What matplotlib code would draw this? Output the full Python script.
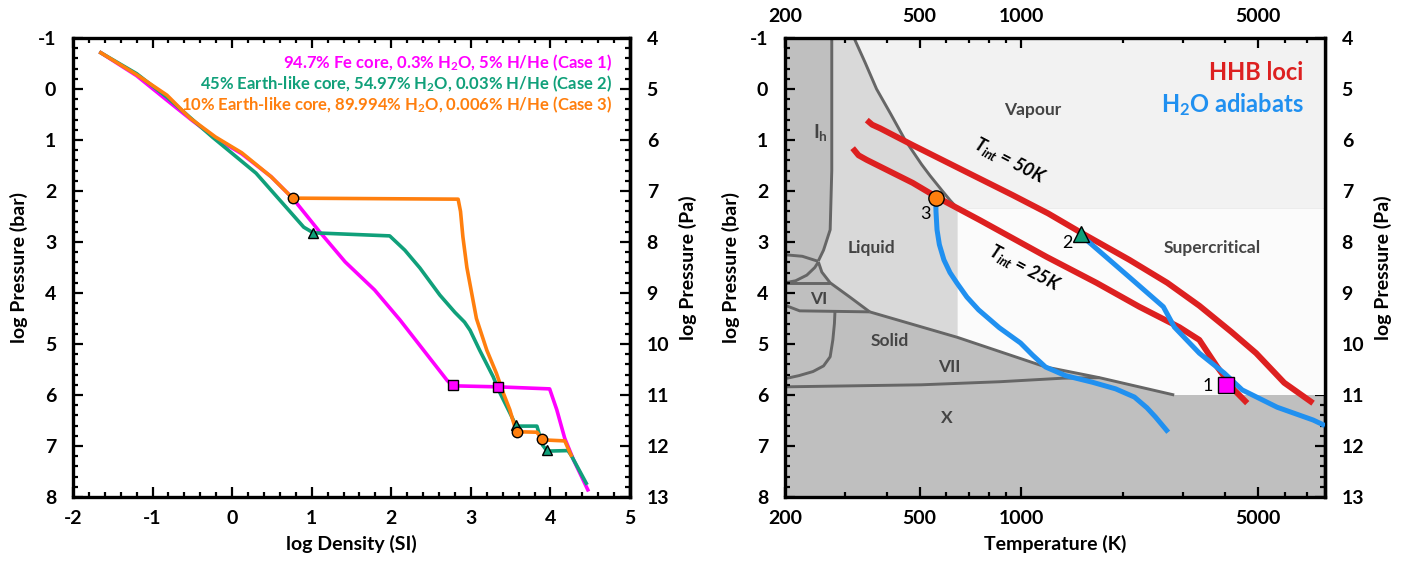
import numpy as np
import matplotlib
matplotlib.use("Agg")
import matplotlib.pyplot as plt
from matplotlib.ticker import MultipleLocator, FixedLocator, FixedFormatter, NullFormatter, LogLocator

plt.rcParams.update({
    'font.family': ['Lato', 'DejaVu Sans'],
    'font.weight': 'bold',
    'axes.labelweight': 'bold',
    'mathtext.fontset': 'custom',
    'mathtext.rm': 'Lato:bold',
    'mathtext.it': 'Lato:italic:bold',
    'mathtext.bf': 'Lato:bold',
    'axes.unicode_minus': False,
})

# ---- left panel: log density vs log pressure (bar) ----
case1_d = [-1.65, -1.2, -0.82, -0.5, -0.2, 0.12, 0.49, 0.76, 1.10, 1.42, 1.79, 2.11, 2.48, 2.70, 2.77,
           3.34, 3.99, 4.08, 4.18, 4.29, 4.47]
case1_P = [-0.71, -0.26, 0.22, 0.62, 0.97, 1.27, 1.72, 2.14, 2.80, 3.39, 3.94, 4.53, 5.27, 5.71, 5.82,
           5.84, 5.88, 6.29, 6.85, 7.27, 7.86]

case2_d = [-1.65, -1.2, -0.82, -0.25, 0.30, 0.90, 1.02, 1.98, 2.17, 2.36, 2.61, 2.80, 2.92, 2.99, 3.11,
           3.28, 3.36, 3.49, 3.57, 3.83, 3.90, 3.96, 4.22, 4.26, 4.45]
case2_P = [-0.71, -0.3, 0.16, 0.94, 1.65, 2.71, 2.82, 2.88, 3.16, 3.51, 4.04, 4.38, 4.57, 4.73, 5.12,
           5.64, 5.94, 6.35, 6.61, 6.61, 6.98, 7.10, 7.09, 7.18, 7.73]

case3_d = [-1.65, -1.2, -0.82, -0.53, -0.21, 0.12, 0.49, 0.76, 2.84, 2.87, 2.90, 2.95, 3.01, 3.07, 3.20,
           3.32, 3.41, 3.49, 3.57, 3.83, 3.90, 4.18, 4.26]
case3_P = [-0.71, -0.28, 0.12, 0.57, 0.94, 1.25, 1.72, 2.14, 2.16, 2.40, 2.90, 3.50, 4.00, 4.50, 5.12,
           5.57, 5.97, 6.29, 6.72, 6.73, 6.88, 6.90, 7.18]

case1_mark_d, case1_mark_P = [2.77, 3.34], [5.80, 5.85]
case2_mark_d, case2_mark_P = [1.02, 3.57, 3.96], [2.82, 6.58, 7.08]
case3_mark_d, case3_mark_P = [0.76, 3.58, 3.89], [2.14, 6.72, 6.87]

case_labels = [
    '94.7% Fe core, 0.3% H$_2$O, 5% H/He (Case 1)',
    '45% Earth-like core, 54.97% H$_2$O, 0.03% H/He (Case 2)',
    '10% Earth-like core, 89.994% H$_2$O, 0.006% H/He (Case 3)',
]

# ---- right panel: water phase diagram (T in K, log P in bar) ----
vap_T = [320, 345, 373, 410, 453, 507, 537, 584, 615, 647]
vap_P = [-1, -0.52, 0, 0.48, 1, 1.48, 1.7, 2, 2.18, 2.34]

ih_T = [275, 275, 272, 260, 251]
ih_P = [-1, 1.6, 2.76, 3.16, 3.37]

ih3_T = [200, 225, 251]
ih3_P = [3.25, 3.28, 3.38]

lens_T = [251, 245, 232, 215, 200]
lens_P = [3.39, 3.50, 3.65, 3.76, 3.80]

melt_T = [251, 257, 272, 311, 356]
melt_P = [3.39, 3.59, 3.80, 4.08, 4.37]

v6_T = [200, 272]
v6_P = [3.80, 3.80]

vi_bot_T = [200, 221, 356]
vi_bot_P = [4.24, 4.35, 4.37]

vii_melt_T = [356, 647, 1179, 1700, 2830]
vii_melt_P = [4.37, 4.87, 5.45, 5.66, 6.0]

solid_curve_T = [281, 280, 277, 272, 260, 242, 220, 200]
solid_curve_P = [4.37, 4.60, 4.92, 5.25, 5.43, 5.54, 5.62, 5.68]

x_line_T = [200, 506, 862, 1329, 1700]
x_line_P = [5.84, 5.80, 5.74, 5.67, 5.66]

hhb50_T = [349, 362, 382, 477, 670, 942, 1200, 1486, 2086, 2700, 3358, 4172, 4944, 5985, 7283]
hhb50_P = [0.61, 0.70, 0.77, 1.10, 1.59, 2.08, 2.44, 2.80, 3.35, 3.80, 4.25, 4.76, 5.18, 5.76, 6.16]

hhb25_T = [317, 330, 349, 477, 562, 753, 1186, 1667, 2232, 2930, 3358, 3794, 4256, 4652]
hhb25_P = [1.16, 1.30, 1.39, 1.84, 2.12, 2.57, 3.29, 3.80, 4.27, 4.67, 4.92, 5.45, 5.90, 6.16]

adi3_T = [558, 559, 563, 572, 590, 615, 644, 690, 747, 860, 994, 1080, 1178, 1350, 1622, 1900, 2158,
          2350, 2490, 2717]
adi3_P = [2.14, 2.40, 2.76, 3.05, 3.35, 3.60, 3.80, 4.08, 4.33, 4.68, 4.98, 5.22, 5.45, 5.62, 5.75,
          5.88, 6.04, 6.25, 6.43, 6.73]

adi2_T = [1500, 1557, 2086, 2628, 2834, 3358, 3979, 4496, 5704, 7283, 7900]
adi2_P = [2.85, 2.96, 3.69, 4.27, 4.67, 5.18, 5.57, 5.90, 6.24, 6.49, 6.60]

T_MIN, T_MAX = 200, 7900
P_CRIT, T_CRIT = 2.34, 647
P_SUPER_BOTTOM = 6.0

magenta = '#ff00ff'
green = '#10a07a'
orange = '#ff7f0e'
red = '#dd2020'
blue = '#2090f0'
line_gray = '#666666'
label_gray = '#444444'

FS = 14

fig = plt.figure(figsize=(14.22, 5.67), dpi=100)
ax1 = fig.add_axes([73 / 1422, 70 / 567, 557 / 1422, 459 / 567])
ax2 = fig.add_axes([785 / 1422, 70 / 567, 540 / 1422, 459 / 567])


def style_axes(ax):
    for s in ax.spines.values():
        s.set_linewidth(2.4)
    ax.tick_params(direction='in', which='both', top=True, labelsize=FS, width=1.6)
    ax.tick_params(which='major', length=7)
    ax.tick_params(which='minor', length=3.5)
    ax.tick_params(axis='y', pad=12)
    ax.tick_params(axis='x', pad=9)
    ax.set_ylim(8, -1)
    ax.yaxis.set_major_locator(MultipleLocator(1))
    ax.yaxis.set_minor_locator(MultipleLocator(0.2))
    ax.set_ylabel('log Pressure (bar)', fontsize=FS, labelpad=7)
    sec = ax.secondary_yaxis('right', functions=(lambda p: p + 5, lambda p: p - 5))
    sec.spines['right'].set_linewidth(2.4)
    sec.yaxis.set_major_locator(FixedLocator(np.arange(4, 14)))
    sec.yaxis.set_minor_locator(FixedLocator(np.arange(4, 13.01, 0.2)))
    sec.tick_params(direction='in', which='both', labelsize=FS, width=1.6, pad=12)
    sec.tick_params(which='major', length=7)
    sec.tick_params(which='minor', length=3.5)
    sec.set_ylabel('log Pressure (Pa)', fontsize=FS, labelpad=7)


# ---------- left panel ----------
style_axes(ax1)
ax1.set_xlim(-2, 5)
ax1.xaxis.set_major_locator(MultipleLocator(1))
ax1.xaxis.set_minor_locator(MultipleLocator(0.2))
ax1.set_xlabel('log Density (SI)', fontsize=FS, labelpad=6)

ax1.plot(case1_d, case1_P, color=magenta, lw=2.6, zorder=2)
ax1.plot(case2_d, case2_P, color=green, lw=2.6, zorder=3)
ax1.plot(case3_d, case3_P, color=orange, lw=2.6, zorder=4)
ax1.plot(case1_mark_d, case1_mark_P, 's', color=magenta, mec='black', mew=1.0, ms=7.5, zorder=6)
ax1.plot(case2_mark_d, case2_mark_P, '^', color=green, mec='black', mew=1.0, ms=7.5, zorder=6)
ax1.plot(case3_mark_d, case3_mark_P, 'o', color=orange, mec='black', mew=1.0, ms=7.5, zorder=6)

for i, (txt, c) in enumerate(zip(case_labels, [magenta, green, orange])):
    ax1.text(0.968, 0.946 - i * 0.046, txt, color=c, fontsize=12, ha='right', va='center',
             transform=ax1.transAxes)

# ---------- right panel ----------
style_axes(ax2)
ax2.set_xscale('log')
ax2.set_xlim(T_MIN, T_MAX)
ax2.xaxis.set_major_locator(FixedLocator([200, 500, 1000, 5000]))
ax2.xaxis.set_major_formatter(FixedFormatter(['200', '500', '1000', '5000']))
ax2.xaxis.set_minor_locator(LogLocator(base=10, subs=np.arange(2, 10)))
ax2.xaxis.set_minor_formatter(NullFormatter())
ax2.tick_params(axis='x', labeltop=True)
ax2.set_xlabel('Temperature (K)', fontsize=FS, labelpad=6)

ax2.set_facecolor('#bfbfbf')
# liquid
liq_T = ih_T + melt_T[1:] + [T_CRIT, T_CRIT] + vap_T[::-1]
liq_P = ih_P + melt_P[1:] + [vii_melt_P[1], P_CRIT] + vap_P[::-1]
ax2.fill(liq_T, liq_P, color='#d9d9d9', lw=0, zorder=0.5)
# vapour
ax2.fill(vap_T + [T_MAX, T_MAX], vap_P + [P_CRIT, -1], color='#f2f2f2', lw=0, zorder=0.5)
# supercritical
sc_T = [T_CRIT, T_MAX, T_MAX] + vii_melt_T[:0:-1]
sc_P = [P_CRIT, P_CRIT, P_SUPER_BOTTOM] + vii_melt_P[:0:-1]
ax2.fill(sc_T, sc_P, color='#fbfbfb', lw=0, zorder=0.5)

for T, P in [(vap_T, vap_P), (ih_T, ih_P), (ih3_T, ih3_P), (lens_T, lens_P), (melt_T, melt_P),
             (v6_T, v6_P), (vi_bot_T, vi_bot_P), (vii_melt_T, vii_melt_P),
             (solid_curve_T, solid_curve_P), (x_line_T, x_line_P)]:
    ax2.plot(T, P, color=line_gray, lw=2.1, zorder=1, solid_capstyle='butt')

ax2.plot(hhb50_T, hhb50_P, color=red, lw=4.3, zorder=2, solid_capstyle='butt')
ax2.plot(hhb25_T, hhb25_P, color=red, lw=4.3, zorder=2, solid_capstyle='butt')
ax2.plot(adi3_T, adi3_P, color=blue, lw=3.6, zorder=3, solid_capstyle='butt')
ax2.plot(adi2_T, adi2_P, color=blue, lw=3.6, zorder=3, solid_capstyle='butt')

ax2.plot([adi3_T[0]], [adi3_P[0]], 'o', color=orange, mec='black', mew=1.0, ms=11, zorder=6)
ax2.plot([adi2_T[0]], [adi2_P[0]], '^', color=green, mec='black', mew=1.0, ms=11, zorder=6)
ax2.plot([4020], [5.80], 's', color=magenta, mec='black', mew=1.0, ms=11, zorder=6)

num_kw = dict(fontsize=13, fontweight='normal', color='black', ha='center', va='center', zorder=7)
ax2.text(522, 2.45, '3', **num_kw)
ax2.text(1369, 3.02, '2', **num_kw)
ax2.text(3560, 5.82, '1', **num_kw)

phase_kw = dict(fontsize=12.5, color=label_gray, ha='center', va='center', zorder=1.5)
ax2.text(1079, 0.41, 'Vapour', **phase_kw)
ax2.text(254, 0.85, 'I$_\\mathrm{h}$', fontsize=14, color=label_gray, ha='center', va='center')
ax2.text(361, 3.12, 'Liquid', **phase_kw)
ax2.text(3666, 3.12, 'Supercritical', **phase_kw)
ax2.text(252, 4.12, 'VI', **phase_kw)
ax2.text(408, 4.95, 'Solid', **phase_kw)
ax2.text(614, 5.45, 'VII', **phase_kw)
ax2.text(601, 6.45, 'X', **phase_kw)

ax2.text(923, 1.40, '$T_{int}$ = 50K', fontsize=13, style='italic', rotation=-27.5,
         ha='center', va='center', rotation_mode='anchor', zorder=7)
ax2.text(1022, 3.51, '$T_{int}$ = 25K', fontsize=13, style='italic', rotation=-28,
         ha='center', va='center', rotation_mode='anchor', zorder=7)

ax2.text(0.96, 0.925, 'HHB loci', color=red, fontsize=17, ha='right', va='center',
         transform=ax2.transAxes, zorder=7)
ax2.text(0.96, 0.855, 'H$_2$O adiabats', color=blue, fontsize=17, ha='right', va='center',
         transform=ax2.transAxes, zorder=7)

fig.savefig('out.png', dpi=100)
